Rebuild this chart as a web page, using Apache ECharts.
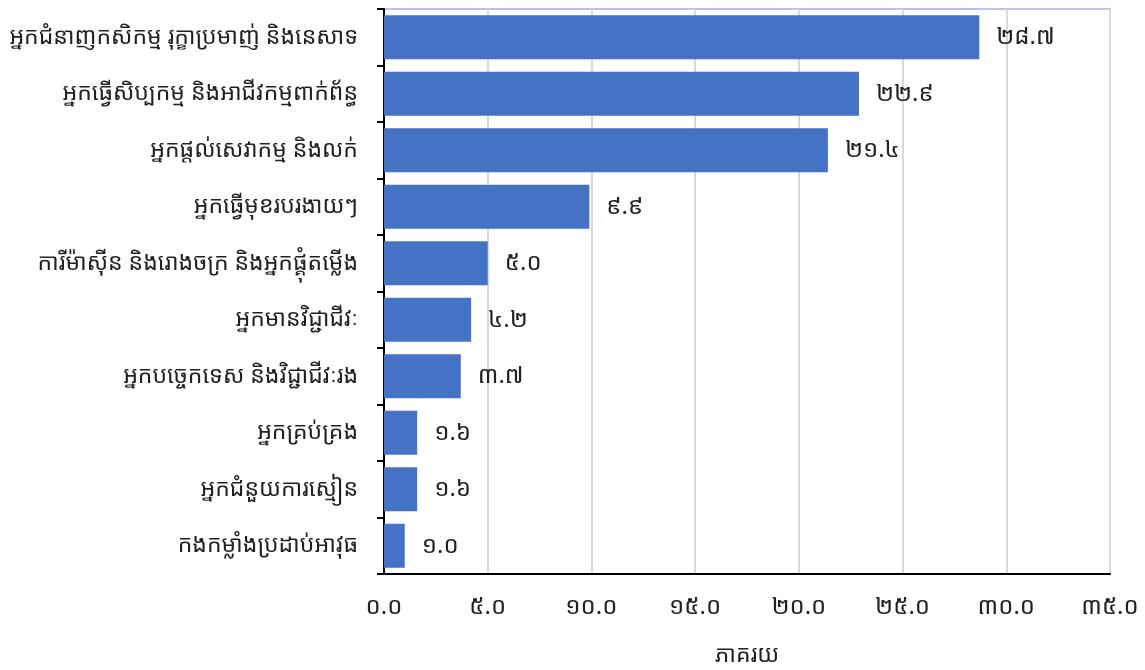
<!DOCTYPE html>
<html>
<head>
<meta charset="utf-8">
<script src="https://cdn.jsdelivr.net/npm/echarts@6/dist/echarts.min.js"></script>
<style>html,body{margin:0;padding:0;background:#fff}#c{width:1145px;height:670px}</style>
</head>
<body>
<div id="c"></div>
<script>
const categories = [
  "អ្នកជំនាញកសិកម្ម រុក្ខាប្រមាញ់ និងនេសាទ",
  "អ្នកធ្វើសិប្បកម្ម និងអាជីវកម្មពាក់ព័ន្ធ",
  "អ្នកផ្តល់សេវាកម្ម និងលក់",
  "អ្នកធ្វើមុខរបរងាយៗ",
  "ការីម៉ាស៊ីន និងរោងចក្រ និងអ្នកផ្គុំតម្លើង",
  "អ្នកមានវិជ្ជាជីវៈ",
  "អ្នកបច្ចេកទេស និងវិជ្ជាជីវៈរង",
  "អ្នកគ្រប់គ្រង",
  "អ្នកជំនួយការស្មៀន",
  "កងកម្លាំងប្រដាប់អាវុធ"
];
const values = [28.7, 22.9, 21.4, 9.9, 5.0, 4.2, 3.7, 1.6, 1.6, 1.0];
const axisTitle = "ភាគរយ";
const khmerDigits = ["០","១","២","៣","៤","៥","៦","៧","៨","៩"];
function toKhmer(v) {
  return v.toFixed(1).replace(/[0-9]/g, d => khmerDigits[+d]);
}
const FONT = '"Noto Sans Khmer", "Khmer OS", "Khmer OS System", "Noto Sans", sans-serif';
const chart = echarts.init(document.getElementById('c'));
chart.setOption({
  animation: false,
  textStyle: { fontFamily: FONT },
  grid: {
    left: 384, right: 35, top: 9, bottom: 96,
    outerBoundsMode: 'none', containLabel: false,
    show: true, borderColor: '#B4C7E7', borderWidth: 2, backgroundColor: 'transparent'
  },
  xAxis: {
    type: 'value', min: 0, max: 35, interval: 5,
    name: axisTitle, nameLocation: 'middle', nameGap: 68,
    nameTextStyle: { fontSize: 23, color: '#222', fontFamily: FONT, lineHeight: 26 },
    axisLine: { show: true, lineStyle: { color: '#000', width: 2 } },
    axisTick: { show: false },
    axisLabel: { fontSize: 24, color: '#222', margin: 21, fontFamily: FONT, formatter: v => toKhmer(v) },
    splitLine: { show: true, lineStyle: { color: '#D9D9D9', width: 2 } }
  },
  yAxis: {
    type: 'category', data: categories, inverse: true,
    axisLine: { show: true, lineStyle: { color: '#000', width: 2 } },
    axisTick: { show: true, length: 7, lineStyle: { color: '#000', width: 2 } },
    axisLabel: { fontSize: 23, color: '#222', margin: 26, fontFamily: FONT },
    splitLine: { show: false }
  },
  series: [{
    type: 'bar', data: values, barCategoryGap: '22%',
    itemStyle: { color: '#4472C4' },
    label: {
      show: true, position: 'right', distance: 17, fontSize: 24, color: '#222',
      fontFamily: FONT, formatter: p => toKhmer(p.value)
    }
  }]
});
</script>
</body>
</html>
